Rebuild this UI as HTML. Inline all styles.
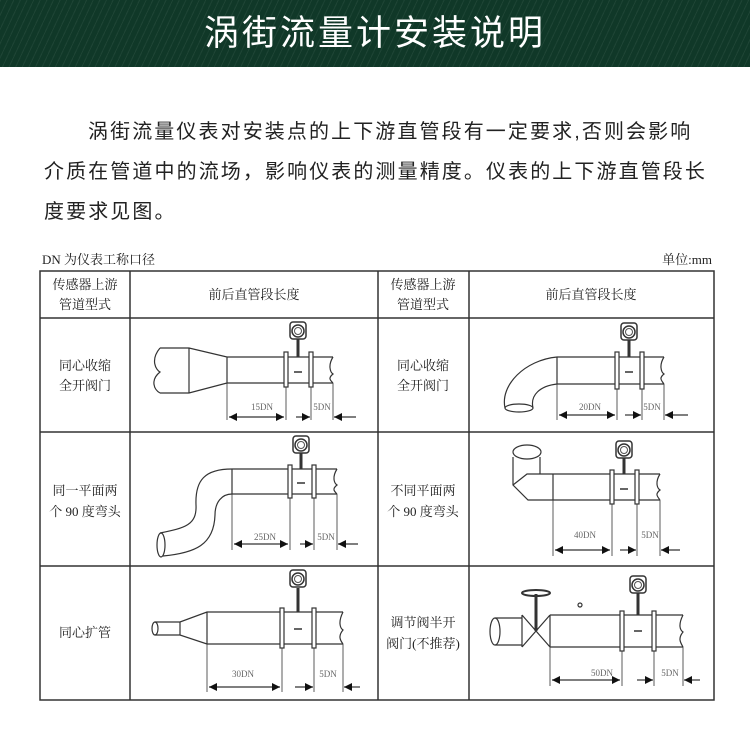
<!DOCTYPE html>
<html><head><meta charset="utf-8"><style>
body{margin:0;width:750px;height:746px;background:#fff;overflow:hidden;position:relative;font-family:"Liberation Sans","Noto Sans CJK SC",sans-serif}
.ban{position:absolute;left:0;top:0;width:750px;height:67px;background:#103828;background-image:repeating-linear-gradient(115deg,rgba(255,255,255,0.06) 0 1px,transparent 1px 6px);color:#fff;font-size:35px;text-align:center;line-height:67px;letter-spacing:3px}
.p{position:absolute;left:44px;font-size:20px;color:#222;letter-spacing:2.1px;white-space:nowrap;line-height:40px}
svg{position:absolute;left:0;top:0}
</style></head><body>
<div class="ban">涡街流量计安装说明</div>
<div class="p" style="top:112px;left:88px">涡街流量仪表对安装点的上下游直管段有一定要求,否则会影响</div>
<div class="p" style="top:152px">介质在管道中的流场，影响仪表的测量精度。仪表的上下游直管段长</div>
<div class="p" style="top:192px">度要求见图。</div>
<svg width="750" height="746" viewBox="0 0 750 746">
<defs>
<marker id="ah" viewBox="0 0 10 10" refX="10" refY="5" markerWidth="8" markerHeight="8" markerUnits="userSpaceOnUse" orient="auto-start-reverse"><path d="M0,0L10,5L0,10z" fill="#111"/></marker>
<g id="m"><rect x="-8" y="-9" width="16" height="17" rx="3" fill="#fff" stroke="#333" stroke-width="1.5"/><circle r="6" fill="#fff" stroke="#333" stroke-width="1.5"/><circle r="3.5" fill="none" stroke="#555"/></g>
</defs>
<g font-family="Liberation Serif,'Noto Serif CJK SC',serif" fill="#222">
<text x="42" y="264" font-size="13">DN 为仪表工称口径</text>
<text x="712" y="264" font-size="13" text-anchor="end">单位:mm</text>
</g>
<g fill="none" stroke="#333" stroke-width="1.5">
<rect x="40" y="271" width="674" height="429"/>
<line x1="40" y1="318" x2="714" y2="318"/><line x1="40" y1="432" x2="714" y2="432"/><line x1="40" y1="566" x2="714" y2="566"/>
<line x1="130" y1="271" x2="130" y2="700"/><line x1="378" y1="271" x2="378" y2="700"/><line x1="469" y1="271" x2="469" y2="700"/>
</g>
<g font-family="Liberation Serif,'Noto Serif CJK SC',serif" font-size="13" fill="#222" text-anchor="middle">
<text x="85" y="289">传感器上游</text><text x="85" y="309">管道型式</text>
<text x="254" y="299">前后直管段长度</text>
<text x="423" y="289">传感器上游</text><text x="423" y="309">管道型式</text>
<text x="591" y="299">前后直管段长度</text>
<text x="85" y="370">同心收缩</text><text x="85" y="390">全开阀门</text>
<text x="423" y="370">同心收缩</text><text x="423" y="390">全开阀门</text>
<text x="85" y="495">同一平面两</text><text x="85" y="516">个 90 度弯头</text>
<text x="423" y="495">不同平面两</text><text x="423" y="516">个 90 度弯头</text>
<text x="85" y="637">同心扩管</text>
<text x="423" y="627">调节阀半开</text><text x="423" y="648">阀门(不推荐)</text>
</g>
<g fill="none" stroke="#333" stroke-width="1.2">
<path d="M160,348H189L227,357H333M160,393H189L227,383H333M189,348V393M227,357V383"/>
<path d="M160,348C150,360 156,370 160,372C150,380 154,390 160,393M333,357C328,365 330,372 333,374C328,378 330,380 333,383"/>
<rect x="284" y="352" width="4" height="35" fill="#fff"/><rect x="309" y="352" width="4" height="35" fill="#fff"/>
<line x1="298" y1="339" x2="298" y2="357" stroke-width="3"/>
<path d="M227,383V420M286,387V420M311,387V420M333,383V420" stroke-width="0.8"/>
<line x1="229" y1="417" x2="284" y2="417" marker-start="url(#ah)" marker-end="url(#ah)"/>
<line x1="296" y1="417" x2="310" y2="417" marker-end="url(#ah)"/><line x1="356" y1="417" x2="334" y2="417" marker-end="url(#ah)"/>
<path d="M557,357H664M557,384H664M557,357V384M557,357C525,360 500,385 505,408M557,384C540,386 530,395 533,408"/>
<ellipse cx="519" cy="408" rx="14" ry="4"/>
<path d="M664,357C659,365 661,372 664,374C659,378 661,380 664,384"/>
<rect x="615" y="352" width="4" height="37" fill="#fff"/><rect x="640" y="352" width="4" height="37" fill="#fff"/>
<line x1="629" y1="340" x2="629" y2="357" stroke-width="3"/>
<path d="M557,384V420M617,389V420M642,389V420M664,384V420" stroke-width="0.8"/>
<line x1="559" y1="415" x2="615" y2="415" marker-start="url(#ah)" marker-end="url(#ah)"/>
<line x1="625" y1="415" x2="641" y2="415" marker-end="url(#ah)"/><line x1="688" y1="415" x2="665" y2="415" marker-end="url(#ah)"/>
<path d="M232,469H337M232,494H337M232,469V494"/>
<path d="M232,469C205,469 195,480 196,505C197,525 185,528 160,533M232,494C222,494 215,502 215,515C214,545 195,553 163,556"/>
<ellipse cx="161" cy="545" rx="4" ry="12"/>
<path d="M337,469C332,477 334,483 337,485C332,489 334,491 337,494"/>
<rect x="288" y="465" width="4" height="33" fill="#fff"/><rect x="312" y="465" width="4" height="33" fill="#fff"/>
<line x1="301" y1="453" x2="301" y2="469" stroke-width="3"/>
<path d="M232,494V550M290,498V550M314,498V550M337,494V550" stroke-width="0.8"/>
<line x1="234" y1="544" x2="288" y2="544" marker-start="url(#ah)" marker-end="url(#ah)"/>
<line x1="300" y1="544" x2="313" y2="544" marker-end="url(#ah)"/><line x1="358" y1="544" x2="338" y2="544" marker-end="url(#ah)"/>
<path d="M553,474H660M553,500H660M553,474V500"/>
<path d="M540,474V457M513,457V485L528,500H553M513,485L527,474H553"/>
<ellipse cx="527" cy="452" rx="14" ry="7"/>
<path d="M660,474C655,482 657,488 660,490C655,494 657,496 660,500"/>
<rect x="610" y="470" width="4" height="34" fill="#fff"/><rect x="635" y="470" width="4" height="34" fill="#fff"/>
<line x1="624" y1="458" x2="624" y2="474" stroke-width="3"/>
<path d="M553,500V556M612,504V556M637,504V556M660,500V556" stroke-width="0.8"/>
<line x1="555" y1="550" x2="610" y2="550" marker-start="url(#ah)" marker-end="url(#ah)"/>
<line x1="620" y1="550" x2="636" y2="550" marker-end="url(#ah)"/><line x1="680" y1="550" x2="661" y2="550" marker-end="url(#ah)"/>
<path d="M155,622H180L207,612H343M155,635H180L207,644H343M180,622V635M207,612V644"/>
<ellipse cx="155" cy="628.5" rx="3" ry="6.5"/>
<path d="M343,612C338,622 340,628 343,630C338,636 340,640 343,644"/>
<rect x="280" y="608" width="4" height="40" fill="#fff"/><rect x="312" y="608" width="4" height="40" fill="#fff"/>
<line x1="298" y1="588" x2="298" y2="612" stroke-width="3"/>
<path d="M207,644V692M282,648V692M314,648V692M343,644V692" stroke-width="0.8"/>
<line x1="209" y1="687" x2="280" y2="687" marker-start="url(#ah)" marker-end="url(#ah)"/>
<line x1="295" y1="687" x2="313" y2="687" marker-end="url(#ah)"/><line x1="360" y1="687" x2="344" y2="687" marker-end="url(#ah)"/>
<path d="M550,615H683M550,647H683M550,615V647M522,615L550,647M522,647L550,615M522,615V647M495,618H522M495,645H522"/>
<ellipse cx="495" cy="631.5" rx="5" ry="13.5"/>
<line x1="536" y1="594" x2="536" y2="631" stroke-width="3"/>
<ellipse cx="536" cy="593" rx="14" ry="3" stroke-width="2"/>
<circle cx="580" cy="605" r="2"/>
<path d="M683,615C678,625 680,630 683,632C678,638 680,642 683,647"/>
<rect x="620" y="611" width="4" height="40" fill="#fff"/><rect x="652" y="611" width="4" height="40" fill="#fff"/>
<line x1="638" y1="593" x2="638" y2="615" stroke-width="3"/>
<path d="M550,647V686M622,651V686M654,651V686M683,647V686" stroke-width="0.8"/>
<line x1="552" y1="680" x2="620" y2="680" marker-start="url(#ah)" marker-end="url(#ah)"/>
<line x1="637" y1="680" x2="653" y2="680" marker-end="url(#ah)"/><line x1="700" y1="680" x2="684" y2="680" marker-end="url(#ah)"/>
</g>
<use href="#m" x="298" y="331"/><use href="#m" x="629" y="332"/><use href="#m" x="301" y="445"/><use href="#m" x="624" y="450"/><use href="#m" x="298" y="579"/><use href="#m" x="638" y="585"/>
<g stroke="#333" stroke-width="1.5">
<line x1="294" y1="372" x2="302" y2="372"/><line x1="625" y1="372" x2="633" y2="372"/><line x1="297" y1="483" x2="305" y2="483"/><line x1="620" y1="489" x2="628" y2="489"/><line x1="294" y1="629" x2="302" y2="629"/><line x1="634" y1="631" x2="642" y2="631"/>
</g>
<g font-family="Liberation Serif,serif" font-size="9" fill="#666" text-anchor="middle">
<text x="262" y="410">15DN</text><text x="322" y="410">5DN</text>
<text x="590" y="410">20DN</text><text x="652" y="410">5DN</text>
<text x="265" y="540">25DN</text><text x="326" y="540">5DN</text>
<text x="585" y="538">40DN</text><text x="650" y="538">5DN</text>
<text x="243" y="677">30DN</text><text x="328" y="677">5DN</text>
<text x="602" y="676">50DN</text><text x="670" y="676">5DN</text>
</g>
</svg>
</body></html>
